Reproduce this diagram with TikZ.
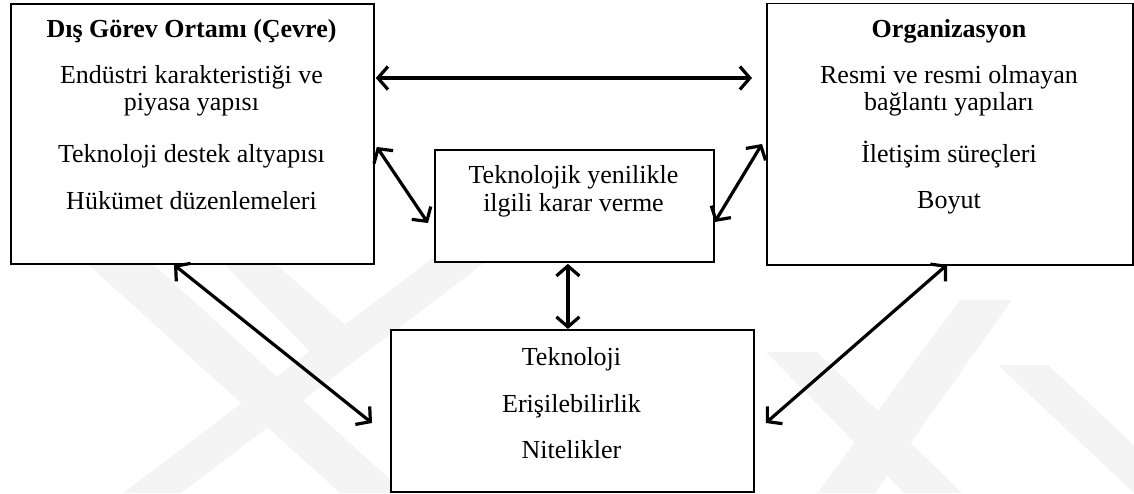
\documentclass[tikz,border=0pt]{standalone}
\usepackage{fontspec}
\setmainfont{Liberation Serif}
\usetikzlibrary{arrows.meta,calc}

\definecolor{mark}{gray}{0.955}

\tikzset{
  panel/.style={draw=black, line width=1.8pt, fill=white, rectangle,
                inner sep=0pt, anchor=north west},
  txt/.style={anchor=base, inner sep=0pt, font=\fontsize{26}{28}\selectfont},
  ttl/.style={txt, font=\fontsize{26}{28}\selectfont\bfseries},
  barb/.tip={Straight Barb[length=10pt,width=23pt,line width=3.2pt]},
  link/.style={line width=3.2pt, barb-barb},
  band/.style={fill=mark, draw=none}
}

\begin{document}
\begin{tikzpicture}[x=1pt,y=-1pt]
  \useasboundingbox (0,0) rectangle (1134,493);

  % faint background bands
  \fill[band] (80,257) -- (145,257) -- (405,493) -- (340,493) -- cycle;
  \fill[band] (123,493) -- (181,493) -- (492,257) -- (434,257) -- cycle;
  \fill[band] (217,257) -- (268,257) -- (368,345) -- (330,372) -- cycle;
  \fill[band] (766,352) -- (817,352) -- (962,493) -- (904,493) -- cycle;
  \fill[band] (817,493) -- (875,493) -- (1012,300) -- (960,300) -- cycle;
  \fill[band] (998,365) -- (1048,365) -- (1134,445) -- (1134,493) -- cycle;

  % boxes
  \node[panel, minimum width=363pt, minimum height=260pt] (L) at (10,3) {};
  \node[panel, minimum width=366pt, minimum height=261.5pt] (R) at (766,2.5) {};
  \node[panel, minimum width=279pt, minimum height=112pt] (C) at (434,149) {};
  \node[panel, minimum width=363pt, minimum height=162pt] (B) at (390,329) {};

  % external task environment
  \node[ttl] (l0) at (191.5,37)  {Dış Görev Ortamı (Çevre)};
  \node[txt] (l1) at (191.5,83)  {Endüstri karakteristiği ve};
  \node[txt] (l2) at (191.5,110) {piyasa yapısı};
  \node[txt] (l3) at (191.5,162) {Teknoloji destek altyapısı};
  \node[txt] (l4) at (191.5,209) {Hükümet düzenlemeleri};

  % organization
  \node[ttl] (r0) at (949,37)  {Organizasyon};
  \node[txt] (r1) at (949,83)  {Resmi ve resmi olmayan};
  \node[txt] (r2) at (949,110) {bağlantı yapıları};
  \node[txt] (r3) at (949,162) {İletişim süreçleri};
  \node[txt] (r4) at (949,208) {Boyut};

  % decision making
  \node[txt] (c1) at (573.5,183) {Teknolojik yenilikle};
  \node[txt] (c2) at (573.5,211) {ilgili karar verme};

  % technology
  \node[txt] (b1) at (571.5,365) {Teknoloji};
  \node[txt] (b2) at (571.5,412) {Erişilebilirlik};
  \node[txt] (b3) at (571.5,458) {Nitelikler};

  % connectors
  \draw[link] ($(L.north east)+(1,75)$) -- ($(R.north west)+(-14,75.5)$);
  \draw[link] ($(L.north east)+(2,144)$) -- ($(C.north west)+(-6,74)$);
  \draw[link] ($(C.north east)+(0,73)$) -- ($(R.north west)+(-4,141.5)$);
  \draw[link] ($(C.south)+(-6.5,1)$) -- ($(B.north)+(-4.5,0)$);
  \draw[link] ($(L.south west)+(164,0)$) -- ($(B.north west)+(-18,94)$);
  \draw[link] ($(R.south west)+(181,-1)$) -- ($(B.north east)+(11,94)$);
\end{tikzpicture}
\end{document}
